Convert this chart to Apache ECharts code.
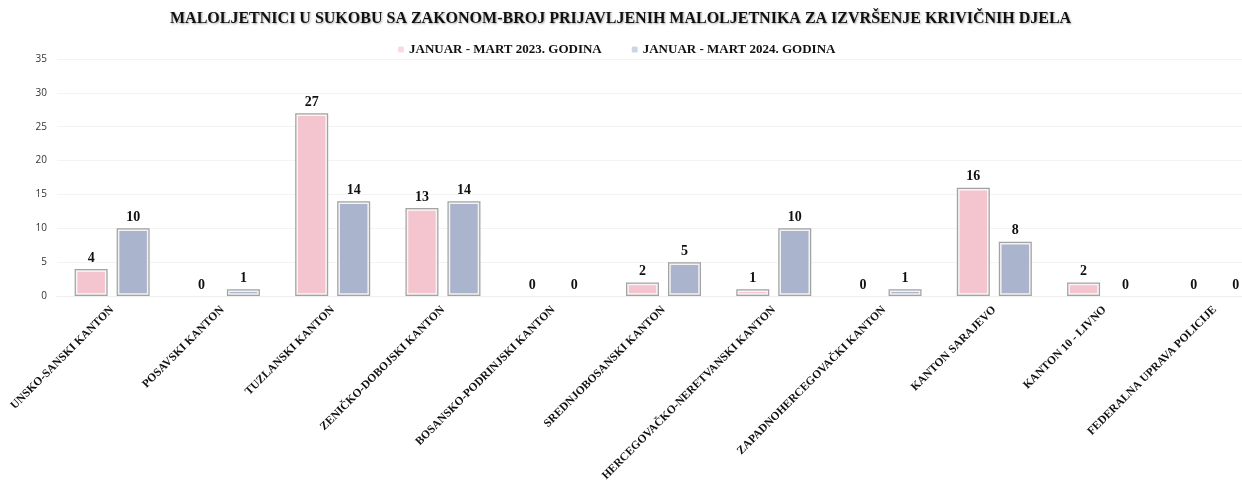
<!DOCTYPE html>
<html><head><meta charset="utf-8">
<script src="https://cdn.jsdelivr.net/npm/echarts@6/dist/echarts.min.js"></script>
<style>html,body{margin:0;padding:0;background:#fff;overflow:hidden}#c{width:1242px;height:484px}</style>
</head><body><div id="c"></div>
<script>
const titleText = 'MALOLJETNICI U SUKOBU SA ZAKONOM-BROJ PRIJAVLJENIH MALOLJETNIKA ZA IZVRŠENJE KRIVIČNIH DJELA';
const categories = ['UNSKO-SANSKI KANTON','POSAVSKI KANTON','TUZLANSKI KANTON','ZENIČKO-DOBOJSKI KANTON','BOSANSKO-PODRINJSKI KANTON','SREDNJOBOSANSKI KANTON','HERCEGOVAČKO-NERETVANSKI KANTON','ZAPADNOHERCEGOVAČKI KANTON','KANTON SARAJEVO','KANTON 10 - LIVNO','FEDERALNA UPRAVA POLICIJE'];
const seriesNames = ['JANUAR - MART 2023. GODINA','JANUAR - MART 2024. GODINA'];
const values2023 = [4,0,27,13,0,2,1,0,16,2,0];
const values2024 = [10,1,14,14,0,5,10,1,8,0,0];
const yTicks = [0,5,10,15,20,25,30,35];

const serif = '"Liberation Serif","DejaVu Serif",serif';
const chart = echarts.init(document.getElementById('c'));
const BW = 33, GAPPX = 9;
function mk(name, values, color){
  return {
    name, type:'bar', barWidth:BW, barGap:(GAPPX/BW*100)+'%', z:2,
    data: values.map(v => v === 0 ? {value:v, itemStyle:{borderWidth:0, opacity:0}, label:{opacity:1}} : v),
    itemStyle:{color, borderColor:'#a3a3a3', borderWidth:2},
    label:{show:true, position:'top', distance:4, color:'#111', fontFamily:serif, fontWeight:'bold', fontSize:14},
    emphasis:{disabled:true}
  };
}
function frame(values, side){
  return {
    type:'custom', silent:true, z:3, legendHoverLink:false,
    data: values.map((v,i)=>[i,v]),
    renderItem(params, api){
      const v = api.value(1);
      if (!v) return null;
      const top = api.coord([api.value(0), v]);
      const base = api.coord([api.value(0), 0]);
      const cx = top[0] + side*(BW+GAPPX)/2;
      return {type:'rect', shape:{x:cx-BW/2+2, y:top[1]+2, width:BW-4, height:Math.max(0,base[1]-top[1]-4)},
        style:{fill:null, stroke:'rgba(255,255,255,0.85)', lineWidth:1.5}};
    }
  };
}
chart.setOption({
  animation:false,
  title:{text:titleText, left:165, top:6,
    textStyle:{fontFamily:serif, fontWeight:'bold', fontSize:16, color:'#111',
      textShadowColor:'rgba(0,0,0,0.35)', textShadowBlur:2, textShadowOffsetX:1, textShadowOffsetY:1}},
  legend:{top:38, left:393, itemWidth:6, itemHeight:6, itemGap:30,
    data:[{name:seriesNames[0], itemStyle:{color:'#f8dbe2', borderWidth:0}},{name:seriesNames[1], itemStyle:{color:'#ccd4e6', borderWidth:0}}],
    textStyle:{fontFamily:serif, fontWeight:'bold', fontSize:13, color:'#111'}},
  grid:{left:57, top:59, right:-28, bottom:188, outerBoundsMode:'none', containLabel:false},
  xAxis:{type:'category', data:categories,
    axisLine:{show:true, lineStyle:{color:'#eeeeee'}}, axisTick:{show:false},
    axisLabel:{rotate:45, interval:0, fontFamily:serif, fontWeight:'bold', fontSize:11.5, color:'#111', margin:12}},
  yAxis:{type:'value', min:0, max:35, interval:5,
    axisLine:{show:false}, axisTick:{show:false},
    splitLine:{lineStyle:{color:'#f3f3f3'}},
    axisLabel:{fontFamily:'"Open Sans","DejaVu Sans",sans-serif', fontSize:10, color:'#333', margin:10,
      formatter:v=>yTicks.includes(v)?String(v):''}},
  series:[mk(seriesNames[0], values2023, '#f5c5cf'), mk(seriesNames[1], values2024, '#aab4cd'),
          frame(values2023, -1), frame(values2024, 1)]
});
</script></body></html>
